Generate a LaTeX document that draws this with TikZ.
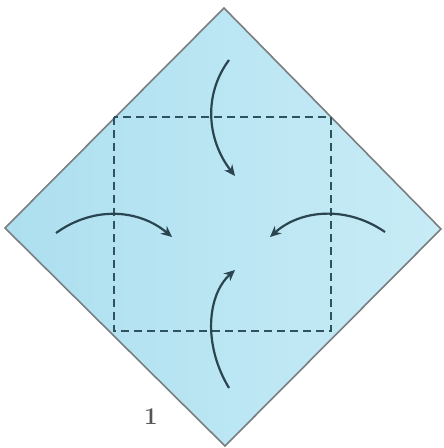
\documentclass[tikz,border=0pt]{standalone}
\usepackage{tikz}
\usetikzlibrary{arrows.meta}
\usepackage{xcolor}
\definecolor{Paper}{HTML}{C8ECF6}
\definecolor{PaperDk}{HTML}{ADDFEF}
\definecolor{Edge}{HTML}{7A7E80}
\definecolor{Fold}{HTML}{2F5260}
\definecolor{Ink}{HTML}{2A4450}
\definecolor{Num}{HTML}{555555}

\tikzset{
  paper/.style={draw=Edge, line width=0.8pt, line join=miter, left color=PaperDk, right color=Paper},
  valley/.style={draw=Fold, line width=0.9pt, dash pattern=on 4pt off 2.5pt},
  foldarrow/.style={-{Stealth[length=5.5pt,width=5pt]}, Ink, line width=1.1pt}
}

\begin{document}
\begin{tikzpicture}[x=0.5pt, y=-0.5pt]
  \useasboundingbox (0,0) rectangle (443,448);
  % corners of the square sheet
  \coordinate (top) at (224,8);
  \coordinate (left) at (5,228);
  \coordinate (right) at (441,229);
  \coordinate (bottom) at (225,446);
  \path[paper] (top) -- (right) -- (bottom) -- (left) -- cycle;
  % fold lines
  \draw[valley] (114,117) rectangle (331,331);
  % arrows
  \coordinate (t0) at (229,60);   \coordinate (t1) at (235,176);
  \coordinate (l0) at (56,233);   \coordinate (l1) at (172,237);
  \coordinate (r0) at (385,232);  \coordinate (r1) at (270,237);
  \coordinate (b0) at (229,388);  \coordinate (b1) at (235,270);
  \draw[foldarrow] (t0) .. controls (203,95) and (207,140) .. (t1);
  \draw[foldarrow] (l0) .. controls (95,205) and (140,210) .. (l1);
  \draw[foldarrow] (r0) .. controls (346,205) and (300,210) .. (r1);
  \draw[foldarrow] (b0) .. controls (203,345) and (207,295) .. (b1);
  \node[Num, font=\large\bfseries] (step) at (151,417) {1};
\end{tikzpicture}
\end{document}
